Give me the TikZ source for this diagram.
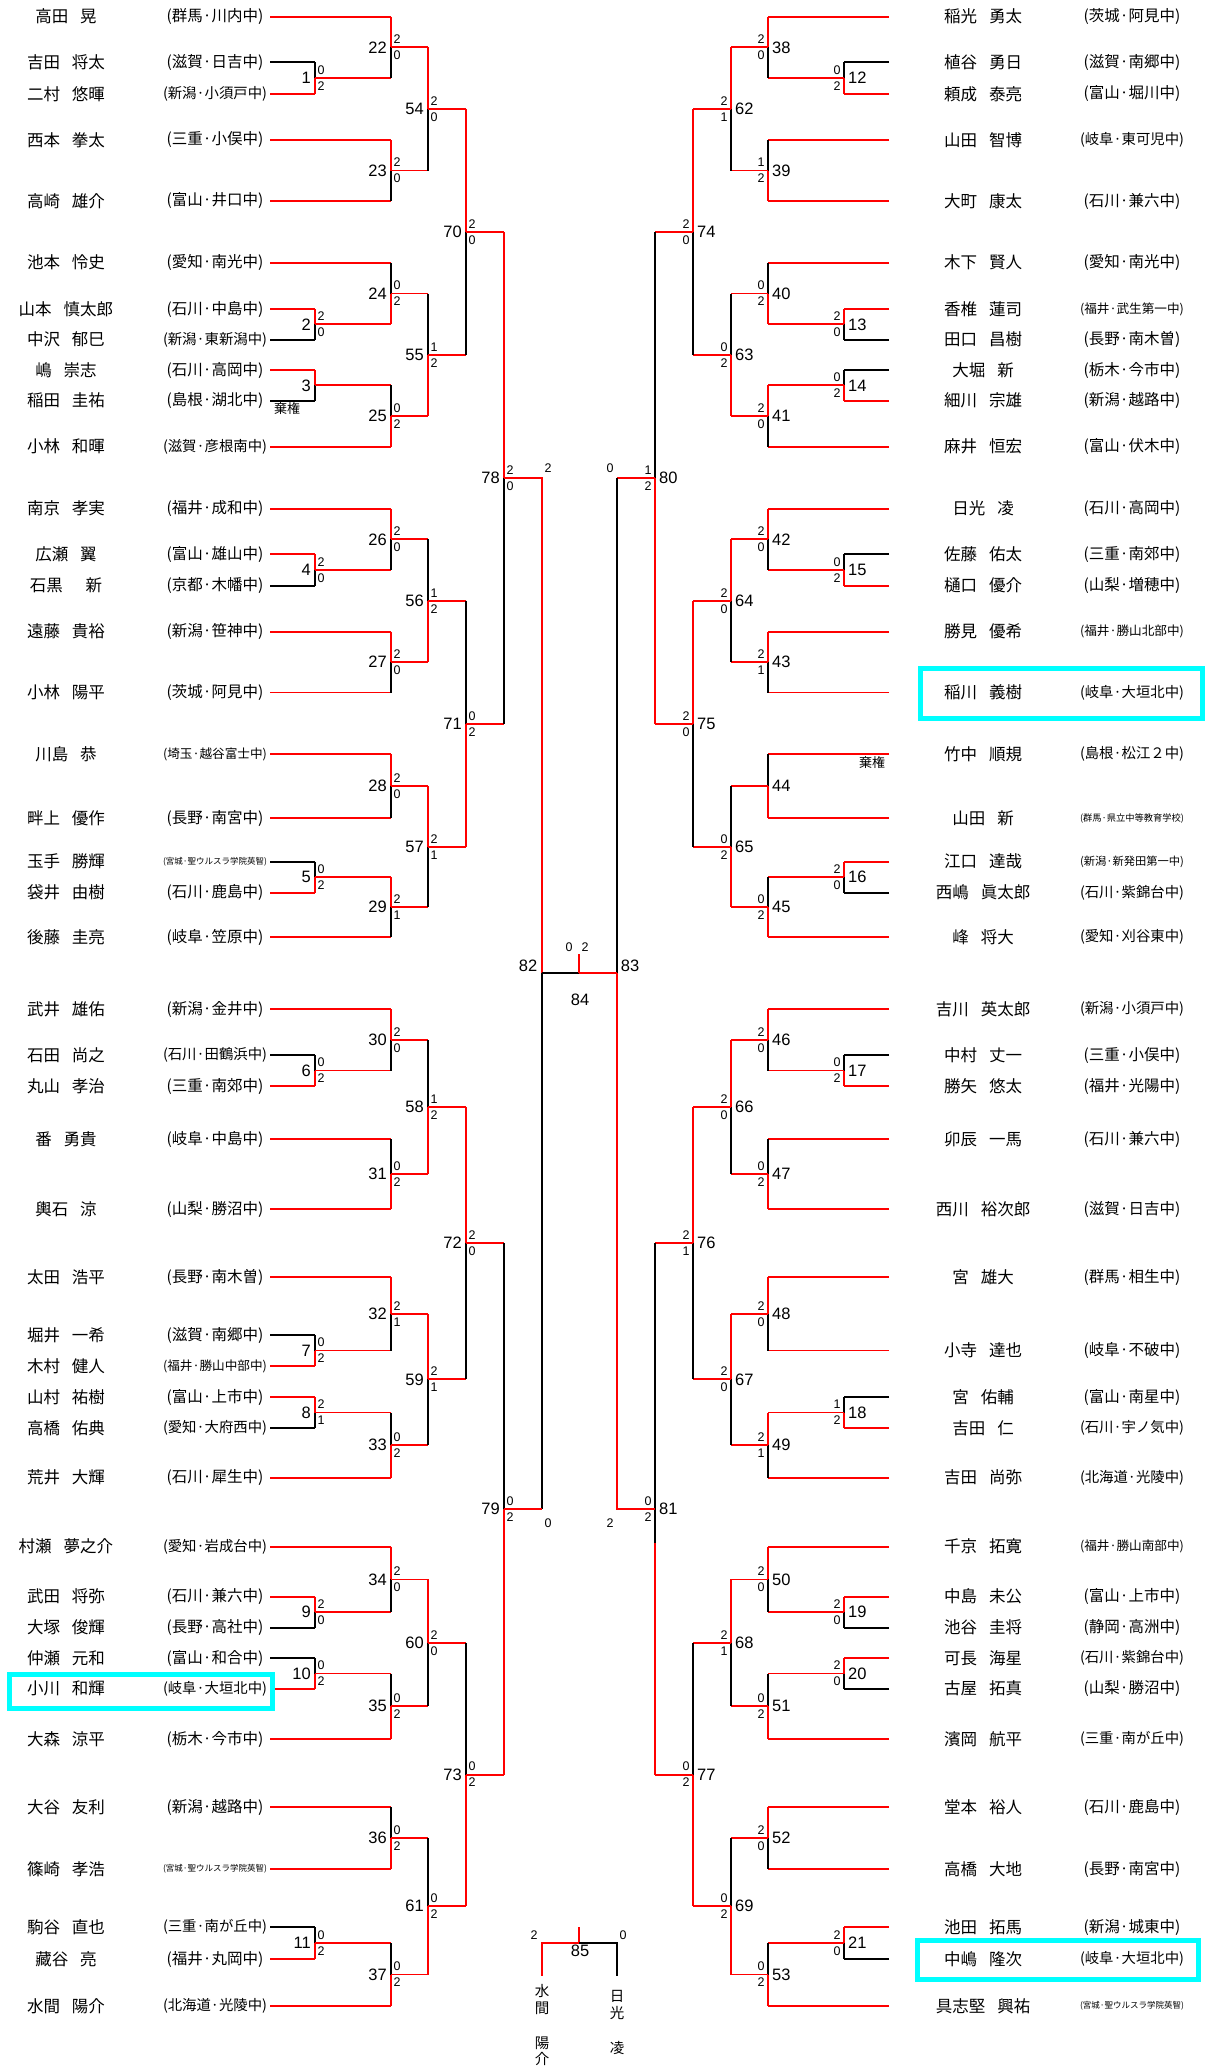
\documentclass[tikz,border=0pt]{standalone}
\usepackage{fontspec}
\setmainfont{Liberation Sans}
\newfontfamily\jp{Noto Sans CJK JP}
\usepackage{graphicx}
\usetikzlibrary{calc}
\definecolor{hicyan}{RGB}{0,255,255}
\definecolor{wred}{RGB}{255,0,0}
\newsavebox\fbx
\newcommand\fitw[1]{\sbox\fbx{#1}\ifdim\wd\fbx>104bp\resizebox{104bp}{!}{\usebox\fbx}\else\usebox\fbx\fi}
\newcommand\nsp{\hspace{12bp}}
\newcommand\nspp{\hspace{23bp}}
\tikzset{
  ln/.style={line width=1.9bp},
  nm/.style={font=\jp\fontsize{16.5bp}{18bp}\selectfont, inner sep=0pt},
  sc/.style={font=\jp\fontsize{15.5bp}{17bp}\selectfont, inner sep=0pt},
  num/.style={font=\fontsize{16.5bp}{18bp}\selectfont, inner sep=0pt},
  sco/.style={font=\fontsize{12.5bp}{14bp}\selectfont, inner sep=0pt},
  kk/.style={font=\jp\fontsize{13bp}{14bp}\selectfont, inner sep=0pt},
  vn/.style={font=\jp\fontsize{14.5bp}{16.7bp}\selectfont, inner sep=0pt, align=center, anchor=north},
  hl/.style={draw=hicyan, line width=5bp}
}
% left player
\newcommand\plL[4]{%
  \coordinate (#1) at (270,#2);
  \node[nm] (#1n) at (66,#2) {#3};
  \node[sc] (#1s) at (215,#2) {\fitw{#4}};
}
% right player
\newcommand\plR[4]{%
  \coordinate (#1) at (889,#2);
  \node[nm] (#1n) at (983,#2) {#3};
  \node[sc] (#1s) at (1132,#2) {\fitw{#4}};
}
% match: number, x-coord, top, bottom, winner t/b, first round 1/0, score top, score bottom, side L/R
\newcommand\mtch[9]{%
  \coordinate (m#1t) at ($(#3)!0.5!(#4)$);
  \coordinate (m#1) at (m#1t -| #2);
  \if#5t\def\ct{wred}\def\cb{black}\else\def\ct{black}\def\cb{wred}\fi
  \if#61\let\hit\ct\let\hib\cb\else\def\hit{wred}\def\hib{wred}\fi
  \draw[ln,draw=\hit] (#3) -- (#3 -| #2);
  \draw[ln,draw=\hib] (#4) -- (#4 -| #2);
  \draw[ln,draw=\ct] (#3 -| #2) -- (m#1);
  \draw[ln,draw=\cb] (m#1) -- (#4 -| #2);
  \if#9L
    \node[num,anchor=east] (n#1) at ([xshift=-4bp]m#1) {#1};
    \node[sco] (s#1a) at ([xshift=6bp,yshift=8bp]m#1) {#7};
    \node[sco] (s#1b) at ([xshift=6bp,yshift=-8bp]m#1) {#8};
  \else
    \node[num,anchor=west] (n#1) at ([xshift=4bp]m#1) {#1};
    \node[sco] (s#1a) at ([xshift=-7bp,yshift=8bp]m#1) {#7};
    \node[sco] (s#1b) at ([xshift=-7bp,yshift=-8bp]m#1) {#8};
  \fi
}
\begin{document}
\begin{tikzpicture}[x=1bp,y=-1bp]
\fill[white] (0,0) rectangle (1208,2066);
\useasboundingbox (0,0) rectangle (1208,2066);
\coordinate (xa) at (315,0); \coordinate (xb) at (391,0); \coordinate (xc) at (428,0);
\coordinate (xd) at (466,0); \coordinate (xe) at (504,0); \coordinate (xf) at (542,0);
\coordinate (ya) at (844,0); \coordinate (yb) at (768,0); \coordinate (yc) at (731,0);
\coordinate (yd) at (693,0); \coordinate (ye) at (655,0); \coordinate (yf) at (617,0);

% ---------- left players
\plL{L1}{16.7}{高田\nsp 晃}{(群馬·川内中)}
\plL{L2a}{62.3}{吉田\nsp 将太}{(滋賀·日吉中)}
\plL{L2b}{94}{二村\nsp 悠暉}{(新潟·小須戸中)}
\plL{L3}{140}{西本\nsp 拳太}{(三重·小俣中)}
\plL{L4}{201}{高崎\nsp 雄介}{(富山·井口中)}
\plL{L5}{262.7}{池本\nsp 怜史}{(愛知·南光中)}
\plL{L6a}{309}{山本\nsp 慎太郎}{(石川·中島中)}
\plL{L6b}{339.7}{中沢\nsp 郁巳}{(新潟·東新潟中)}
\plL{L7a}{370}{嶋\nsp 崇志}{(石川·高岡中)}
\plL{L7b}{400.7}{稲田\nsp 圭祐}{(島根·湖北中)}
\plL{L8}{446.7}{小林\nsp 和暉}{(滋賀·彦根南中)}
\plL{L9}{508.7}{南京\nsp 孝実}{(福井·成和中)}
\plL{L10a}{554.3}{広瀬\nsp 翼}{(富山·雄山中)}
\plL{L10b}{585.7}{石黒\nspp 新}{(京都·木幡中)}
\plL{L11}{631.7}{遠藤\nsp 貴裕}{(新潟·笹神中)}
\plL{L12}{692.5}{小林\nsp 陽平}{(茨城·阿見中)}
\plL{L13}{754}{川島\nsp 恭}{(埼玉·越谷富士中)}
\plL{L14}{818.3}{畔上\nsp 優作}{(長野·南宮中)}
\plL{L15a}{861.7}{玉手\nsp 勝輝}{(宮城·聖ウルスラ学院英智)}
\plL{L15b}{892.7}{袋井\nsp 由樹}{(石川·鹿島中)}
\plL{L16}{937.3}{後藤\nsp 圭亮}{(岐阜·笠原中)}
\plL{L17}{1009}{武井\nsp 雄佑}{(新潟·金井中)}
\plL{L18a}{1055}{石田\nsp 尚之}{(石川·田鶴浜中)}
\plL{L18b}{1086}{丸山\nsp 孝治}{(三重·南郊中)}
\plL{L19}{1139}{番\nsp 勇貴}{(岐阜·中島中)}
\plL{L20}{1209}{輿石\nsp 涼}{(山梨·勝沼中)}
\plL{L21}{1277}{太田\nsp 浩平}{(長野·南木曽)}
\plL{L22a}{1335}{堀井\nsp 一希}{(滋賀·南郷中)}
\plL{L22b}{1366}{木村\nsp 健人}{(福井·勝山中部中)}
\plL{L23a}{1397}{山村\nsp 祐樹}{(富山·上市中)}
\plL{L23b}{1428}{高橋\nsp 佑典}{(愛知·大府西中)}
\plL{L24}{1477.7}{荒井\nsp 大輝}{(石川·犀生中)}
\plL{L25}{1546.7}{村瀬\nsp 夢之介}{(愛知·岩成台中)}
\plL{L26a}{1596.7}{武田\nsp 将弥}{(石川·兼六中)}
\plL{L26b}{1627.7}{大塚\nsp 俊輝}{(長野·高社中)}
\plL{L27a}{1658.3}{仲瀬\nsp 元和}{(富山·和合中)}
\plL{L27b}{1688.7}{小川\nsp 和輝}{(岐阜·大垣北中)}
\plL{L28}{1739}{大森\nsp 涼平}{(栃木·今市中)}
\plL{L29}{1807}{大谷\nsp 友利}{(新潟·越路中)}
\plL{L30}{1869}{篠崎\nsp 孝浩}{(宮城·聖ウルスラ学院英智)}
\plL{L31a}{1927}{駒谷\nsp 直也}{(三重·南が丘中)}
\plL{L31b}{1959}{藏谷\nsp 亮}{(福井·丸岡中)}
\plL{L32}{2006}{水間\nsp 陽介}{(北海道·光陵中)}

% ---------- right players
\plR{R1}{16.7}{稲光\nsp 勇太}{(茨城·阿見中)}
\plR{R2a}{62.3}{植谷\nsp 勇日}{(滋賀·南郷中)}
\plR{R2b}{94}{頼成\nsp 泰亮}{(富山·堀川中)}
\plR{R3}{140}{山田\nsp 智博}{(岐阜·東可児中)}
\plR{R4}{201}{大町\nsp 康太}{(石川·兼六中)}
\plR{R5}{262.7}{木下\nsp 賢人}{(愛知·南光中)}
\plR{R6a}{309}{香椎\nsp 蓮司}{(福井·武生第一中)}
\plR{R6b}{339.7}{田口\nsp 昌樹}{(長野·南木曽)}
\plR{R7a}{370}{大堀\nsp 新}{(栃木·今市中)}
\plR{R7b}{400.7}{細川\nsp 宗雄}{(新潟·越路中)}
\plR{R8}{446.7}{麻井\nsp 恒宏}{(富山·伏木中)}
\plR{R9}{508.7}{日光\nsp 凌}{(石川·高岡中)}
\plR{R10a}{554.3}{佐藤\nsp 佑太}{(三重·南郊中)}
\plR{R10b}{585.7}{樋口\nsp 優介}{(山梨·増穂中)}
\plR{R11}{631.7}{勝見\nsp 優希}{(福井·勝山北部中)}
\plR{R12}{692.5}{稲川\nsp 義樹}{(岐阜·大垣北中)}
\plR{R13}{754}{竹中\nsp 順規}{(島根·松江２中)}
\plR{R14}{818.3}{山田\nsp 新}{(群馬·県立中等教育学校)}
\plR{R15a}{861.7}{江口\nsp 達哉}{(新潟·新発田第一中)}
\plR{R15b}{892.7}{西嶋\nsp 眞太郎}{(石川·紫錦台中)}
\plR{R16}{937.3}{峰\nsp 将大}{(愛知·刈谷東中)}
\plR{R17}{1009}{吉川\nsp 英太郎}{(新潟·小須戸中)}
\plR{R18a}{1055}{中村\nsp 丈一}{(三重·小俣中)}
\plR{R18b}{1086}{勝矢\nsp 悠太}{(福井·光陽中)}
\plR{R19}{1139}{卯辰\nsp 一馬}{(石川·兼六中)}
\plR{R20}{1209}{西川\nsp 裕次郎}{(滋賀·日吉中)}
\plR{R21}{1277}{宮\nsp 雄大}{(群馬·相生中)}
\plR{R22}{1350.5}{小寺\nsp 達也}{(岐阜·不破中)}
\plR{R23a}{1397}{宮\nsp 佑輔}{(富山·南星中)}
\plR{R23b}{1428}{吉田\nsp 仁}{(石川·宇ノ気中)}
\plR{R24}{1477.7}{吉田\nsp 尚弥}{(北海道·光陵中)}
\plR{R25}{1546.7}{千京\nsp 拓寛}{(福井·勝山南部中)}
\plR{R26a}{1596.7}{中島\nsp 未公}{(富山·上市中)}
\plR{R26b}{1627.7}{池谷\nsp 圭将}{(静岡·高洲中)}
\plR{R27a}{1658.3}{可長\nsp 海星}{(石川·紫錦台中)}
\plR{R27b}{1688.7}{古屋\nsp 拓真}{(山梨·勝沼中)}
\plR{R28}{1739}{濱岡\nsp 航平}{(三重·南が丘中)}
\plR{R29}{1807}{堂本\nsp 裕人}{(石川·鹿島中)}
\plR{R30}{1869}{高橋\nsp 大地}{(長野·南宮中)}
\plR{R31a}{1927}{池田\nsp 拓馬}{(新潟·城東中)}
\plR{R31b}{1959}{中嶋\nsp 隆次}{(岐阜·大垣北中)}
\plR{R32}{2006}{具志堅\nsp 興祐}{(宮城·聖ウルスラ学院英智)}

% ---------- left matches
\mtch{1}{xa}{L2a}{L2b}{b}{1}{0}{2}{L}
\mtch{2}{xa}{L6a}{L6b}{t}{1}{2}{0}{L}
\mtch{3}{xa}{L7a}{L7b}{t}{1}{}{}{L}
\mtch{4}{xa}{L10a}{L10b}{t}{1}{2}{0}{L}
\mtch{5}{xa}{L15a}{L15b}{b}{1}{0}{2}{L}
\mtch{6}{xa}{L18a}{L18b}{b}{1}{0}{2}{L}
\mtch{7}{xa}{L22a}{L22b}{b}{1}{0}{2}{L}
\mtch{8}{xa}{L23a}{L23b}{t}{1}{2}{1}{L}
\mtch{9}{xa}{L26a}{L26b}{t}{1}{2}{0}{L}
\mtch{10}{xa}{L27a}{L27b}{b}{1}{0}{2}{L}
\mtch{11}{xa}{L31a}{L31b}{b}{1}{0}{2}{L}
\mtch{22}{xb}{L1}{m1}{t}{0}{2}{0}{L}
\mtch{23}{xb}{L3}{L4}{t}{0}{2}{0}{L}
\mtch{24}{xb}{L5}{m2}{b}{0}{0}{2}{L}
\mtch{25}{xb}{m3}{L8}{b}{0}{0}{2}{L}
\mtch{26}{xb}{L9}{m4}{t}{0}{2}{0}{L}
\mtch{27}{xb}{L11}{L12}{t}{0}{2}{0}{L}
\mtch{28}{xb}{L13}{L14}{t}{0}{2}{0}{L}
\mtch{29}{xb}{m5}{L16}{t}{0}{2}{1}{L}
\mtch{30}{xb}{L17}{m6}{t}{0}{2}{0}{L}
\mtch{31}{xb}{L19}{L20}{b}{0}{0}{2}{L}
\mtch{32}{xb}{L21}{m7}{t}{0}{2}{1}{L}
\mtch{33}{xb}{m8}{L24}{b}{0}{0}{2}{L}
\mtch{34}{xb}{L25}{m9}{t}{0}{2}{0}{L}
\mtch{35}{xb}{m10}{L28}{b}{0}{0}{2}{L}
\mtch{36}{xb}{L29}{L30}{b}{0}{0}{2}{L}
\mtch{37}{xb}{m11}{L32}{b}{0}{0}{2}{L}
\mtch{54}{xc}{m22}{m23}{t}{0}{2}{0}{L}
\mtch{55}{xc}{m24}{m25}{b}{0}{1}{2}{L}
\mtch{56}{xc}{m26}{m27}{b}{0}{1}{2}{L}
\mtch{57}{xc}{m28}{m29}{t}{0}{2}{1}{L}
\mtch{58}{xc}{m30}{m31}{b}{0}{1}{2}{L}
\mtch{59}{xc}{m32}{m33}{t}{0}{2}{1}{L}
\mtch{60}{xc}{m34}{m35}{t}{0}{2}{0}{L}
\mtch{61}{xc}{m36}{m37}{b}{0}{0}{2}{L}
\mtch{70}{xd}{m54}{m55}{t}{0}{2}{0}{L}
\mtch{71}{xd}{m56}{m57}{b}{0}{0}{2}{L}
\mtch{72}{xd}{m58}{m59}{t}{0}{2}{0}{L}
\mtch{73}{xd}{m60}{m61}{b}{0}{0}{2}{L}
\mtch{78}{xe}{m70}{m71}{t}{0}{2}{0}{L}
\mtch{79}{xe}{m72}{m73}{b}{0}{0}{2}{L}

% ---------- right matches
\mtch{12}{ya}{R2a}{R2b}{b}{1}{0}{2}{R}
\mtch{13}{ya}{R6a}{R6b}{t}{1}{2}{0}{R}
\mtch{14}{ya}{R7a}{R7b}{b}{1}{0}{2}{R}
\mtch{15}{ya}{R10a}{R10b}{b}{1}{0}{2}{R}
\mtch{16}{ya}{R15a}{R15b}{t}{1}{2}{0}{R}
\mtch{17}{ya}{R18a}{R18b}{b}{1}{0}{2}{R}
\mtch{18}{ya}{R23a}{R23b}{b}{1}{1}{2}{R}
\mtch{19}{ya}{R26a}{R26b}{t}{1}{2}{0}{R}
\mtch{20}{ya}{R27a}{R27b}{t}{1}{2}{0}{R}
\mtch{21}{ya}{R31a}{R31b}{t}{1}{2}{0}{R}
\mtch{38}{yb}{R1}{m12}{t}{0}{2}{0}{R}
\mtch{39}{yb}{R3}{R4}{b}{0}{1}{2}{R}
\mtch{40}{yb}{R5}{m13}{b}{0}{0}{2}{R}
\mtch{41}{yb}{m14}{R8}{t}{0}{2}{0}{R}
\mtch{42}{yb}{R9}{m15}{t}{0}{2}{0}{R}
\mtch{43}{yb}{R11}{R12}{t}{0}{2}{1}{R}
\mtch{44}{yb}{R13}{R14}{b}{0}{}{}{R}
\mtch{45}{yb}{m16}{R16}{b}{0}{0}{2}{R}
\mtch{46}{yb}{R17}{m17}{t}{0}{2}{0}{R}
\mtch{47}{yb}{R19}{R20}{b}{0}{0}{2}{R}
\mtch{48}{yb}{R21}{R22}{t}{0}{2}{0}{R}
\mtch{49}{yb}{m18}{R24}{t}{0}{2}{1}{R}
\mtch{50}{yb}{R25}{m19}{t}{0}{2}{0}{R}
\mtch{51}{yb}{m20}{R28}{b}{0}{0}{2}{R}
\mtch{52}{yb}{R29}{R30}{t}{0}{2}{0}{R}
\mtch{53}{yb}{m21}{R32}{b}{0}{0}{2}{R}
\mtch{62}{yc}{m38}{m39}{t}{0}{2}{1}{R}
\mtch{63}{yc}{m40}{m41}{b}{0}{0}{2}{R}
\mtch{64}{yc}{m42}{m43}{t}{0}{2}{0}{R}
\mtch{65}{yc}{m44}{m45}{b}{0}{0}{2}{R}
\mtch{66}{yc}{m46}{m47}{t}{0}{2}{0}{R}
\mtch{67}{yc}{m48}{m49}{t}{0}{2}{0}{R}
\mtch{68}{yc}{m50}{m51}{t}{0}{2}{1}{R}
\mtch{69}{yc}{m52}{m53}{b}{0}{0}{2}{R}
\mtch{74}{yd}{m62}{m63}{t}{0}{2}{0}{R}
\mtch{75}{yd}{m64}{m65}{t}{0}{2}{0}{R}
\mtch{76}{yd}{m66}{m67}{t}{0}{2}{1}{R}
\mtch{77}{yd}{m68}{m69}{b}{0}{0}{2}{R}
\mtch{80}{ye}{m74}{m75}{b}{0}{1}{2}{R}
\mtch{81}{ye}{m76}{m77}{b}{0}{0}{2}{R}
\coordinate (k81) at ([yshift=-34bp]m81);
\draw[ln,black] (m81) -- (k81);

% withdrawals
\node[kk] (k3) at (287,409) {棄権};
\node[kk] (k44) at (872,763) {棄権};

% ---------- semifinals and final
\coordinate (f84) at (579,973);
\coordinate (f84L) at (f84 -| xf);
\coordinate (f84R) at (f84 -| yf);
\coordinate (c84) at (579,954);
\draw[ln,wred] (m78) -- (m78 -| xf) -- (f84L);
\draw[ln,black] (f84L) -- (m79 -| xf);
\draw[ln,wred] (m79) -- (m79 -| xf);
\draw[ln,wred] (m80) -- (m80 -| yf);
\draw[ln,black] (m80 -| yf) -- (f84R);
\draw[ln,wred] (f84R) -- (m81 -| yf) -- (m81);
\draw[ln,black] (f84L) -- (f84);
\draw[ln,wred] (f84) -- (f84R);
\draw[ln,wred] (f84) -- (c84);
\node[num] (n82) at (528,966) {82};
\node[num] (n83) at (630,966) {83};
\node[num] (n84) at (580,1000) {84};
\node[sco] (s84a) at (569,947) {0};
\node[sco] (s84b) at (585,947) {2};
\node[sco] (s82a) at (548,468) {2};
\node[sco] (s82b) at (548,1523) {0};
\node[sco] (s83a) at (610,468) {0};
\node[sco] (s83b) at (610,1523) {2};

% ---------- match 85
\coordinate (f85) at (579,1942.7);
\coordinate (f85L) at (542,1942.7);
\coordinate (f85R) at (617,1942.7);
\coordinate (c85) at (579,1927.3);
\coordinate (d85L) at (542,1975.7);
\coordinate (d85R) at (617,1975.7);
\draw[ln,wred] (d85L) -- (f85L) -- (f85) -- (c85);
\draw[ln,black] (f85) -- (f85R) -- (d85R);
\node[sco] (s85a) at (534,1935) {2};
\node[sco] (s85b) at (623,1935) {0};
\node[num] (n85) at (580,1951) {85};
\node[vn] (v85a) at (542,1984) {水\\間\\[18.3bp]陽\\介};
\node[vn] (v85b) at (617,1990.5) {日\\光\\[18.3bp]凌};

% ---------- highlight boxes
\draw[hl] (9,1674) rectangle (272.5,1708);
\draw[hl] (920.8,668.5) rectangle (1202.5,718.5);
\draw[hl] (917.5,1940.5) rectangle (1198.5,1979);
\end{tikzpicture}
\end{document}
